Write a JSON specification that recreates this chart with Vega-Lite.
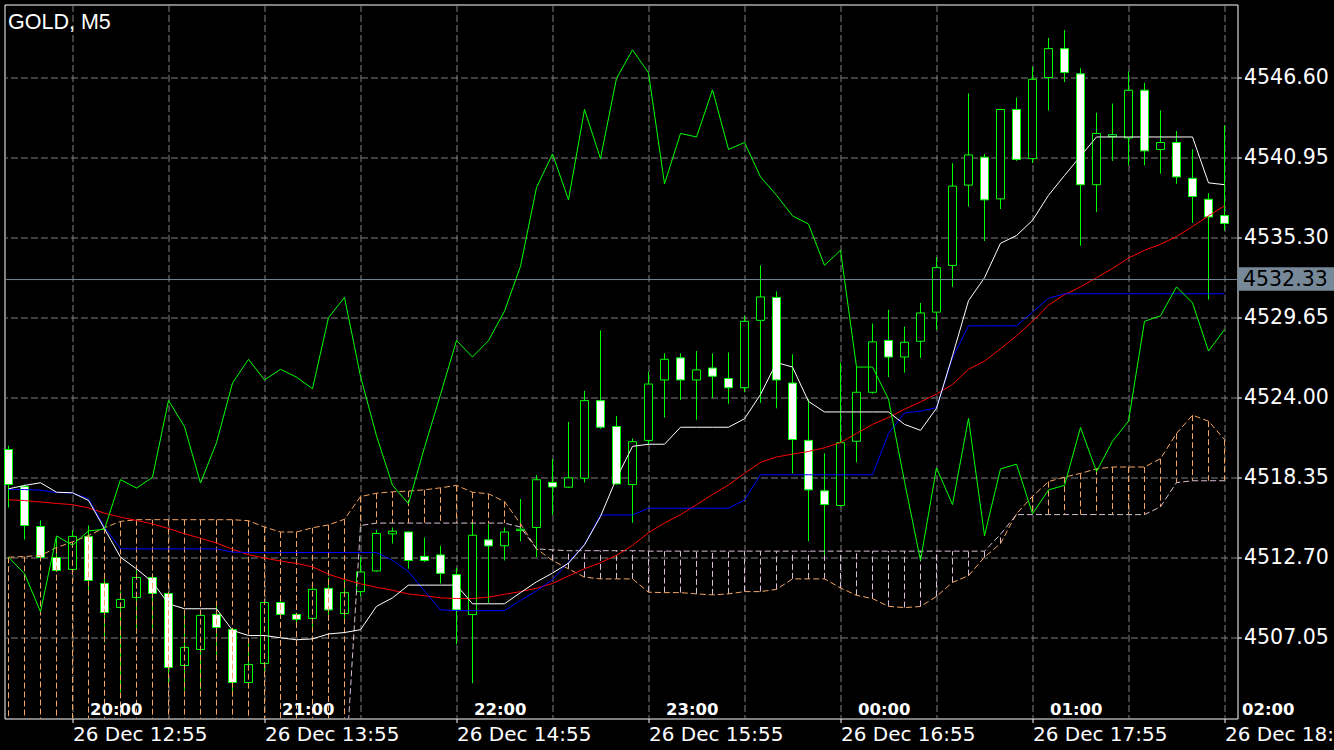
{
"$schema": "https://vega.github.io/schema/vega-lite/v6.json",
"width": 1233, "height": 714,
"autosize": "none",
"padding": {"left": 4.5, "top": 4.5, "right": 96.5, "bottom": 31.5},
"background": "#000000",
"config": {"view": {"stroke": "#ffffff", "strokeWidth": 1, "fill": "#000000"}},
"datasets": {
"bars": [
{"t":"2025-12-26T12:35:00Z","o":4520.33,"h":4520.6,"l":4516.23,"c":4517.86,"ma":4516.78,"tk":4517.55,"kj":4517.5,"ck":4512.72,"sa":4512.72,"sb":4490},
{"t":"2025-12-26T12:40:00Z","o":4517.72,"h":4517.85,"l":4513.97,"c":4514.96,"ma":4516.72,"tk":4517.79,"kj":4517.5,"ck":4511.56,"sa":4512.77,"sb":4490},
{"t":"2025-12-26T12:45:00Z","o":4514.89,"h":4515.32,"l":4512.6,"c":4512.7,"ma":4516.62,"tk":4517.98,"kj":4517.45,"ck":4508.87,"sa":4512.84,"sb":4490},
{"t":"2025-12-26T12:50:00Z","o":4512.7,"h":4514.12,"l":4511.7,"c":4511.78,"ma":4516.52,"tk":4517.31,"kj":4517.29,"ck":4514.22,"sa":4513.4,"sb":4490},
{"t":"2025-12-26T12:55:00Z","o":4511.86,"h":4514.61,"l":4511.8,"c":4514.19,"ma":4516.43,"tk":4517.27,"kj":4517.25,"ck":4513.57,"sa":4513.8,"sb":4490},
{"t":"2025-12-26T13:00:00Z","o":4514.19,"h":4514.96,"l":4510.16,"c":4511.08,"ma":4516.2,"tk":4516.73,"kj":4516.85,"ck":4514.58,"sa":4514.25,"sb":4490},
{"t":"2025-12-26T13:05:00Z","o":4510.87,"h":4511.6,"l":4506.7,"c":4508.82,"ma":4515.83,"tk":4514.73,"kj":4514.85,"ck":4514.7,"sa":4514.8,"sb":4490},
{"t":"2025-12-26T13:10:00Z","o":4509.17,"h":4510.3,"l":4503.2,"c":4509.74,"ma":4515.55,"tk":4512.72,"kj":4513.31,"ck":4518.2,"sa":4515.25,"sb":4490},
{"t":"2025-12-26T13:15:00Z","o":4509.88,"h":4511.85,"l":4507.33,"c":4511.29,"ma":4515.32,"tk":4511.9,"kj":4513.31,"ck":4517.6,"sa":4515.37,"sb":4490},
{"t":"2025-12-26T13:20:00Z","o":4511.29,"h":4511.57,"l":4507.4,"c":4510.16,"ma":4515.07,"tk":4510.96,"kj":4513.31,"ck":4518.37,"sa":4515.37,"sb":4490},
{"t":"2025-12-26T13:25:00Z","o":4510.16,"h":4510.2,"l":4503.6,"c":4504.93,"ma":4514.75,"tk":4509.43,"kj":4513.31,"ck":4523.79,"sa":4515.37,"sb":4490},
{"t":"2025-12-26T13:30:00Z","o":4505.07,"h":4508.96,"l":4503.3,"c":4506.35,"ma":4514.38,"tk":4509.08,"kj":4513.31,"ck":4521.94,"sa":4515.37,"sb":4490},
{"t":"2025-12-26T13:35:00Z","o":4506.2,"h":4509.0,"l":4503.4,"c":4508.61,"ma":4514.06,"tk":4509.08,"kj":4513.31,"ck":4517.96,"sa":4515.37,"sb":4490},
{"t":"2025-12-26T13:40:00Z","o":4508.68,"h":4509.3,"l":4505.5,"c":4507.76,"ma":4513.72,"tk":4509.08,"kj":4513.31,"ck":4520.81,"sa":4515.37,"sb":4490},
{"t":"2025-12-26T13:45:00Z","o":4507.62,"h":4507.7,"l":4503.17,"c":4503.87,"ma":4513.28,"tk":4507.55,"kj":4513.08,"ck":4525.02,"sa":4515.37,"sb":4490},
{"t":"2025-12-26T13:50:00Z","o":4503.87,"h":4506.7,"l":4503.8,"c":4505.14,"ma":4512.9,"tk":4507.19,"kj":4513.05,"ck":4526.7,"sa":4515.3,"sb":4490},
{"t":"2025-12-26T13:55:00Z","o":4505.21,"h":4509.6,"l":4504.7,"c":4509.52,"ma":4512.66,"tk":4507.19,"kj":4513.05,"ck":4525.24,"sa":4514.85,"sb":4490},
{"t":"2025-12-26T14:00:00Z","o":4509.52,"h":4510.0,"l":4508.4,"c":4508.68,"ma":4512.45,"tk":4507.03,"kj":4513.05,"ck":4525.99,"sa":4514.5,"sb":4490},
{"t":"2025-12-26T14:05:00Z","o":4508.68,"h":4508.8,"l":4508.1,"c":4508.33,"ma":4512.28,"tk":4506.89,"kj":4513.05,"ck":4525.44,"sa":4514.5,"sb":4490},
{"t":"2025-12-26T14:10:00Z","o":4508.4,"h":4510.6,"l":4507.6,"c":4510.45,"ma":4512.04,"tk":4506.95,"kj":4513.05,"ck":4524.62,"sa":4514.8,"sb":4490},
{"t":"2025-12-26T14:15:00Z","o":4510.52,"h":4511.3,"l":4508.3,"c":4509.0,"ma":4511.52,"tk":4507.3,"kj":4513.05,"ck":4529.64,"sa":4515.0,"sb":4492},
{"t":"2025-12-26T14:20:00Z","o":4508.74,"h":4511.1,"l":4508.0,"c":4510.22,"ma":4511.15,"tk":4507.4,"kj":4513.05,"ck":4531.07,"sa":4515.4,"sb":4496.5},
{"t":"2025-12-26T14:25:00Z","o":4510.29,"h":4512.72,"l":4509.97,"c":4511.68,"ma":4510.84,"tk":4507.6,"kj":4513.05,"ck":4525.5,"sa":4517.0,"sb":4514.96},
{"t":"2025-12-26T14:30:00Z","o":4511.75,"h":4514.66,"l":4511.7,"c":4514.4,"ma":4510.6,"tk":4509.25,"kj":4513.05,"ck":4521.29,"sa":4517.24,"sb":4515.13},
{"t":"2025-12-26T14:35:00Z","o":4514.37,"h":4514.82,"l":4513.69,"c":4514.56,"ma":4510.39,"tk":4509.85,"kj":4512.5,"ck":4517.8,"sa":4517.34,"sb":4515.13},
{"t":"2025-12-26T14:40:00Z","o":4514.5,"h":4514.55,"l":4511.91,"c":4512.49,"ma":4510.12,"tk":4510.75,"kj":4511.7,"ck":4516.5,"sa":4517.39,"sb":4515.13},
{"t":"2025-12-26T14:45:00Z","o":4512.78,"h":4514.11,"l":4512.39,"c":4512.49,"ma":4510.0,"tk":4510.75,"kj":4510.33,"ck":4520.48,"sa":4517.48,"sb":4515.13},
{"t":"2025-12-26T14:50:00Z","o":4512.88,"h":4513.53,"l":4510.87,"c":4511.58,"ma":4509.85,"tk":4510.75,"kj":4509.0,"ck":4524.21,"sa":4517.62,"sb":4515.13},
{"t":"2025-12-26T14:55:00Z","o":4511.49,"h":4511.97,"l":4506.57,"c":4509.0,"ma":4509.8,"tk":4510.75,"kj":4508.95,"ck":4528.02,"sa":4517.79,"sb":4515.13},
{"t":"2025-12-26T15:00:00Z","o":4508.67,"h":4515.14,"l":4503.82,"c":4514.27,"ma":4509.8,"tk":4509.43,"kj":4508.95,"ck":4526.86,"sa":4517.31,"sb":4515.13},
{"t":"2025-12-26T15:05:00Z","o":4513.95,"h":4515.08,"l":4509.48,"c":4513.52,"ma":4509.9,"tk":4509.43,"kj":4508.95,"ck":4528.02,"sa":4517.2,"sb":4515.13},
{"t":"2025-12-26T15:10:00Z","o":4513.53,"h":4514.82,"l":4512.49,"c":4514.5,"ma":4510.1,"tk":4509.43,"kj":4508.95,"ck":4530.1,"sa":4516.65,"sb":4515.13},
{"t":"2025-12-26T15:15:00Z","o":4514.6,"h":4516.83,"l":4513.85,"c":4514.7,"ma":4510.29,"tk":4510.22,"kj":4509.67,"ck":4533.27,"sa":4515.08,"sb":4514.85},
{"t":"2025-12-26T15:20:00Z","o":4514.82,"h":4518.51,"l":4512.72,"c":4518.19,"ma":4510.53,"tk":4510.98,"kj":4510.34,"ck":4538.83,"sa":4513.31,"sb":4513.31},
{"t":"2025-12-26T15:25:00Z","o":4518.0,"h":4519.65,"l":4515.7,"c":4517.68,"ma":4510.87,"tk":4511.6,"kj":4511.14,"ck":4541.2,"sa":4512.49,"sb":4513.24},
{"t":"2025-12-26T15:30:00Z","o":4517.67,"h":4522.27,"l":4517.6,"c":4518.32,"ma":4511.39,"tk":4512.3,"kj":4512.37,"ck":4537.96,"sa":4511.9,"sb":4513.18},
{"t":"2025-12-26T15:35:00Z","o":4518.3,"h":4524.47,"l":4518.0,"c":4523.78,"ma":4511.91,"tk":4513.6,"kj":4513.62,"ck":4544.34,"sa":4511.31,"sb":4513.18},
{"t":"2025-12-26T15:40:00Z","o":4523.78,"h":4528.74,"l":4521.78,"c":4521.9,"ma":4512.33,"tk":4515.6,"kj":4515.7,"ck":4540.87,"sa":4511.19,"sb":4513.18},
{"t":"2025-12-26T15:45:00Z","o":4521.95,"h":4522.7,"l":4517.86,"c":4517.9,"ma":4512.86,"tk":4518.3,"kj":4515.7,"ck":4546.54,"sa":4511.19,"sb":4513.18},
{"t":"2025-12-26T15:50:00Z","o":4517.85,"h":4521.1,"l":4515.15,"c":4520.88,"ma":4513.55,"tk":4520.55,"kj":4515.7,"ck":4548.55,"sa":4511.19,"sb":4513.18},
{"t":"2025-12-26T15:55:00Z","o":4520.97,"h":4525.82,"l":4520.65,"c":4524.95,"ma":4514.45,"tk":4520.7,"kj":4516.18,"ck":4546.93,"sa":4510.25,"sb":4513.15},
{"t":"2025-12-26T16:00:00Z","o":4525.24,"h":4527.12,"l":4522.59,"c":4526.7,"ma":4515.14,"tk":4520.7,"kj":4516.18,"ck":4539.09,"sa":4510.22,"sb":4513.15},
{"t":"2025-12-26T16:05:00Z","o":4526.8,"h":4527.12,"l":4523.82,"c":4525.24,"ma":4515.72,"tk":4521.9,"kj":4516.18,"ck":4542.65,"sa":4510.22,"sb":4513.15},
{"t":"2025-12-26T16:10:00Z","o":4525.24,"h":4527.28,"l":4522.43,"c":4525.95,"ma":4516.43,"tk":4521.9,"kj":4516.18,"ck":4542.4,"sa":4510.13,"sb":4513.15},
{"t":"2025-12-26T16:15:00Z","o":4526.08,"h":4527.12,"l":4523.95,"c":4525.5,"ma":4517.15,"tk":4521.9,"kj":4516.18,"ck":4545.73,"sa":4510.06,"sb":4513.15},
{"t":"2025-12-26T16:20:00Z","o":4525.34,"h":4527.18,"l":4523.56,"c":4524.69,"ma":4517.83,"tk":4521.9,"kj":4516.18,"ck":4541.52,"sa":4510.13,"sb":4513.15},
{"t":"2025-12-26T16:25:00Z","o":4524.69,"h":4529.77,"l":4524.37,"c":4529.38,"ma":4518.64,"tk":4522.5,"kj":4516.76,"ck":4542.01,"sa":4510.29,"sb":4513.15},
{"t":"2025-12-26T16:30:00Z","o":4529.45,"h":4533.33,"l":4523.62,"c":4531.1,"ma":4519.42,"tk":4524.21,"kj":4518.54,"ck":4539.58,"sa":4510.29,"sb":4513.15},
{"t":"2025-12-26T16:35:00Z","o":4531.07,"h":4531.49,"l":4523.24,"c":4525.24,"ma":4519.8,"tk":4526.47,"kj":4518.54,"ck":4538.29,"sa":4510.45,"sb":4513.15},
{"t":"2025-12-26T16:40:00Z","o":4525.02,"h":4527.05,"l":4518.64,"c":4521.03,"ma":4520.0,"tk":4526.15,"kj":4518.54,"ck":4536.83,"sa":4511.19,"sb":4513.15},
{"t":"2025-12-26T16:45:00Z","o":4520.97,"h":4523.88,"l":4513.85,"c":4517.48,"ma":4520.19,"tk":4523.72,"kj":4518.54,"ck":4536.25,"sa":4511.19,"sb":4513.15},
{"t":"2025-12-26T16:50:00Z","o":4517.41,"h":4520.06,"l":4512.72,"c":4516.44,"ma":4520.45,"tk":4522.98,"kj":4518.54,"ck":4533.33,"sa":4511.19,"sb":4513.15},
{"t":"2025-12-26T16:55:00Z","o":4516.37,"h":4526.47,"l":4516.3,"c":4520.81,"ma":4520.81,"tk":4522.98,"kj":4518.54,"ck":4534.4,"sa":4510.55,"sb":4513.15},
{"t":"2025-12-26T17:00:00Z","o":4520.91,"h":4526.15,"l":4519.42,"c":4524.37,"ma":4521.46,"tk":4522.98,"kj":4518.54,"ck":4526.15,"sa":4510.03,"sb":4513.15},
{"t":"2025-12-26T17:05:00Z","o":4524.37,"h":4529.22,"l":4524.27,"c":4527.93,"ma":4522.1,"tk":4522.98,"kj":4518.54,"ck":4526.15,"sa":4509.8,"sb":4513.15},
{"t":"2025-12-26T17:10:00Z","o":4528.03,"h":4530.19,"l":4525.44,"c":4526.86,"ma":4522.59,"tk":4522.98,"kj":4521.46,"ck":4523.88,"sa":4509.25,"sb":4513.15},
{"t":"2025-12-26T17:15:00Z","o":4526.86,"h":4529.0,"l":4525.76,"c":4527.9,"ma":4523.17,"tk":4522.1,"kj":4522.91,"ck":4518.06,"sa":4509.16,"sb":4513.15},
{"t":"2025-12-26T17:20:00Z","o":4527.97,"h":4530.68,"l":4526.8,"c":4529.97,"ma":4523.69,"tk":4521.68,"kj":4523.04,"ck":4512.49,"sa":4509.24,"sb":4513.15},
{"t":"2025-12-26T17:25:00Z","o":4530.03,"h":4533.92,"l":4528.8,"c":4533.17,"ma":4524.24,"tk":4523.24,"kj":4523.28,"ck":4519.03,"sa":4509.95,"sb":4513.15},
{"t":"2025-12-26T17:30:00Z","o":4533.33,"h":4540.55,"l":4531.81,"c":4538.93,"ma":4524.92,"tk":4526.96,"kj":4526.8,"ck":4516.44,"sa":4510.94,"sb":4513.15},
{"t":"2025-12-26T17:35:00Z","o":4539.0,"h":4545.47,"l":4537.48,"c":4541.13,"ma":4525.99,"tk":4530.84,"kj":4529.06,"ck":4522.52,"sa":4511.42,"sb":4513.15},
{"t":"2025-12-26T17:40:00Z","o":4540.97,"h":4541.2,"l":4535.05,"c":4537.96,"ma":4526.57,"tk":4532.46,"kj":4529.06,"ck":4514.24,"sa":4512.72,"sb":4513.15},
{"t":"2025-12-26T17:45:00Z","o":4538.03,"h":4544.4,"l":4537.31,"c":4544.34,"ma":4527.44,"tk":4534.89,"kj":4529.06,"ck":4518.96,"sa":4513.69,"sb":4514.34},
{"t":"2025-12-26T17:50:00Z","o":4544.34,"h":4545.18,"l":4540.71,"c":4540.81,"ma":4528.35,"tk":4535.44,"kj":4529.06,"ck":4519.29,"sa":4515.79,"sb":4515.73},
{"t":"2025-12-26T17:55:00Z","o":4540.87,"h":4547.35,"l":4540.55,"c":4546.47,"ma":4529.38,"tk":4536.51,"kj":4530.03,"ck":4515.79,"sa":4517.02,"sb":4515.73},
{"t":"2025-12-26T18:00:00Z","o":4546.6,"h":4549.39,"l":4544.27,"c":4548.64,"ma":4530.52,"tk":4538.28,"kj":4531.0,"ck":4517.47,"sa":4518.06,"sb":4515.73},
{"t":"2025-12-26T18:05:00Z","o":4548.64,"h":4549.94,"l":4546.28,"c":4546.96,"ma":4531.26,"tk":4539.68,"kj":4531.33,"ck":4517.8,"sa":4518.38,"sb":4515.73},
{"t":"2025-12-26T18:10:00Z","o":4546.86,"h":4547.25,"l":4534.72,"c":4539.03,"ma":4531.81,"tk":4541.04,"kj":4531.33,"ck":4521.88,"sa":4518.64,"sb":4515.73},
{"t":"2025-12-26T18:15:00Z","o":4539.03,"h":4544.11,"l":4537.09,"c":4542.65,"ma":4532.46,"tk":4542.4,"kj":4531.33,"ck":4518.77,"sa":4518.96,"sb":4515.73},
{"t":"2025-12-26T18:20:00Z","o":4542.43,"h":4544.76,"l":4540.71,"c":4542.56,"ma":4533.11,"tk":4542.4,"kj":4531.33,"ck":4520.91,"sa":4519.09,"sb":4515.73},
{"t":"2025-12-26T18:25:00Z","o":4542.33,"h":4547.02,"l":4540.39,"c":4545.7,"ma":4533.85,"tk":4542.4,"kj":4531.33,"ck":4522.33,"sa":4519.09,"sb":4515.73},
{"t":"2025-12-26T18:30:00Z","o":4545.7,"h":4546.22,"l":4540.39,"c":4541.42,"ma":4534.4,"tk":4542.4,"kj":4531.33,"ck":4529.38,"sa":4519.09,"sb":4515.73},
{"t":"2025-12-26T18:35:00Z","o":4541.52,"h":4544.27,"l":4539.81,"c":4542.01,"ma":4534.82,"tk":4542.4,"kj":4531.33,"ck":4529.77,"sa":4519.68,"sb":4516.28},
{"t":"2025-12-26T18:40:00Z","o":4542.01,"h":4542.82,"l":4539.09,"c":4539.58,"ma":4535.37,"tk":4542.4,"kj":4531.33,"ck":4531.81,"sa":4521.46,"sb":4517.99},
{"t":"2025-12-26T18:45:00Z","o":4539.48,"h":4541.52,"l":4536.34,"c":4538.19,"ma":4536.08,"tk":4542.4,"kj":4531.33,"ck":4530.68,"sa":4522.75,"sb":4518.12},
{"t":"2025-12-26T18:50:00Z","o":4538.0,"h":4538.43,"l":4530.92,"c":4536.75,"ma":4536.83,"tk":4539.16,"kj":4531.33,"ck":4527.28,"sa":4522.33,"sb":4518.12},
{"t":"2025-12-26T18:55:00Z","o":4536.85,"h":4543.21,"l":4535.8,"c":4536.29,"ma":4537.54,"tk":4539.03,"kj":4531.33,"ck":4528.8,"sa":4521.03,"sb":4518.12}
],
"hours": [
{"t":"2025-12-26T13:00:00Z","label":"20:00"},
{"t":"2025-12-26T14:00:00Z","label":"21:00"},
{"t":"2025-12-26T15:00:00Z","label":"22:00"},
{"t":"2025-12-26T16:00:00Z","label":"23:00"},
{"t":"2025-12-26T17:00:00Z","label":"00:00"},
{"t":"2025-12-26T18:00:00Z","label":"01:00"},
{"t":"2025-12-26T19:00:00Z","label":"02:00"}
]
},
"layer": [
{"data": {"name": "bars"},
 "mark": {"type": "rule", "color": "#00ff00", "strokeWidth": 1},
 "encoding": {
  "x": {"field": "t", "type": "temporal", "title": null,
   "scale": {"type": "utc", "nice": false, "padding": 0, "domain": [{"year":2025,"month":12,"date":26,"hours":12,"minutes":33,"seconds":45,"utc":true},{"year":2025,"month":12,"date":26,"hours":18,"minutes":59,"seconds":3,"milliseconds":750,"utc":true}]},
   "axis": {"orient": "bottom", "title": null, "domain": false,
    "values": [{"year":2025,"month":12,"date":26,"hours":12,"minutes":55,"utc":true},{"year":2025,"month":12,"date":26,"hours":13,"minutes":25,"utc":true},{"year":2025,"month":12,"date":26,"hours":13,"minutes":55,"utc":true},{"year":2025,"month":12,"date":26,"hours":14,"minutes":25,"utc":true},{"year":2025,"month":12,"date":26,"hours":14,"minutes":55,"utc":true},{"year":2025,"month":12,"date":26,"hours":15,"minutes":25,"utc":true},{"year":2025,"month":12,"date":26,"hours":15,"minutes":55,"utc":true},{"year":2025,"month":12,"date":26,"hours":16,"minutes":25,"utc":true},{"year":2025,"month":12,"date":26,"hours":16,"minutes":55,"utc":true},{"year":2025,"month":12,"date":26,"hours":17,"minutes":25,"utc":true},{"year":2025,"month":12,"date":26,"hours":17,"minutes":55,"utc":true},{"year":2025,"month":12,"date":26,"hours":18,"minutes":25,"utc":true},{"year":2025,"month":12,"date":26,"hours":18,"minutes":55,"utc":true}],
    "labelExpr": "utcminutes(datum.value) == 55 ? '26 Dec ' + utcFormat(datum.value, '%H:%M') : ''",
    "grid": true, "gridColor": "#808080", "gridDash": [7, 3], "gridWidth": 1,
    "ticks": true, "tickSize": 4, "tickColor": "#ffffff",
    "tickOpacity": {"condition": {"test": "utcminutes(datum.value) == 55", "value": 1}, "value": 0},
    "labelAlign": "left", "labelBaseline": "top", "labelPadding": 2, "labelFlush": false, "labelOverlap": false,
    "labelColor": "#ffffff", "labelFont": "DejaVu Sans", "labelFontSize": 20}},
  "y": {"field": "l", "type": "quantitative", "title": null,
   "scale": {"domain": [4501.3294, 4551.7556], "nice": false, "zero": false, "padding": 0},
   "axis": {"orient": "right", "title": null, "domain": false,
    "values": [4507.05, 4512.7, 4518.35, 4524.0, 4529.65, 4535.3, 4540.95, 4546.6],
    "format": ".2f", "grid": true, "gridColor": "#808080", "gridDash": [7, 3], "gridWidth": 1,
    "ticks": true, "tickSize": 4, "tickColor": "#ffffff",
    "labelAlign": "left", "labelBaseline": "middle", "labelPadding": 2, "labelFlush": false, "labelOverlap": false,
    "labelColor": "#ffffff", "labelFont": "DejaVu Sans", "labelFontSize": 20.5}},
  "y2": {"field": "h"}}},
{"data": {"name": "bars"},
 "mark": {"type": "bar", "size": 8, "stroke": "#00ff00", "strokeWidth": 1},
 "encoding": {
  "x": {"field": "t", "type": "temporal", "title": null},
  "y": {"field": "o", "type": "quantitative", "title": null},
  "y2": {"field": "c"},
  "fill": {"condition": {"test": "datum.c < datum.o", "value": "#ffffff"}, "value": "#000000"}}},
{"data": {"name": "bars"},
 "mark": {"type": "rule", "strokeDash": [6, 3], "strokeWidth": 1, "clip": true},
 "encoding": {
  "x": {"field": "t", "type": "temporal", "title": null},
  "y": {"field": "sa", "type": "quantitative", "title": null},
  "y2": {"field": "sb"},
  "color": {"condition": {"test": "datum.sa >= datum.sb", "value": "#f4a460"}, "value": "#d8bfd8"}}},
{"data": {"name": "bars"},
 "mark": {"type": "line", "color": "#f4a460", "strokeWidth": 1, "strokeDash": [6, 3], "clip": true},
 "encoding": {
  "x": {"field": "t", "type": "temporal", "title": null},
  "y": {"field": "sa", "type": "quantitative", "title": null}}},
{"data": {"name": "bars"},
 "mark": {"type": "line", "color": "#d8bfd8", "strokeWidth": 1, "strokeDash": [6, 3], "clip": true},
 "encoding": {
  "x": {"field": "t", "type": "temporal", "title": null},
  "y": {"field": "sb", "type": "quantitative", "title": null}}},
{"data": {"name": "bars"},
 "mark": {"type": "line", "color": "#ff0000", "strokeWidth": 1, "clip": true},
 "encoding": {
  "x": {"field": "t", "type": "temporal", "title": null},
  "y": {"field": "ma", "type": "quantitative", "title": null}}},
{"data": {"name": "bars"},
 "mark": {"type": "line", "color": "#0000ff", "strokeWidth": 1, "clip": true},
 "encoding": {
  "x": {"field": "t", "type": "temporal", "title": null},
  "y": {"field": "kj", "type": "quantitative", "title": null}}},
{"data": {"name": "bars"},
 "mark": {"type": "line", "color": "#ffffff", "strokeWidth": 1, "clip": true},
 "encoding": {
  "x": {"field": "t", "type": "temporal", "title": null},
  "y": {"field": "tk", "type": "quantitative", "title": null}}},
{"data": {"name": "bars"},
 "mark": {"type": "line", "color": "#00ff00", "strokeWidth": 1, "clip": true},
 "encoding": {
  "x": {"field": "t", "type": "temporal", "title": null},
  "y": {"field": "ck", "type": "quantitative", "title": null}}},
{"data": {"values": [{}]},
 "mark": {"type": "rule", "color": "#778899", "strokeWidth": 1},
 "encoding": {
  "y": {"datum": 4532.33, "type": "quantitative", "title": null}}},
{"data": {"values": [{}]},
 "mark": {"type": "rect", "color": "#778899", "clip": false},
 "encoding": {
  "x": {"datum": {"year":2025,"month":12,"date":26,"hours":18,"minutes":59,"seconds":13,"utc":true}, "type": "temporal", "title": null},
  "x2": {"datum": {"year":2025,"month":12,"date":26,"hours":19,"minutes":29,"seconds":13,"utc":true}},
  "y": {"datum": 4531.54, "type": "quantitative", "title": null},
  "y2": {"datum": 4533.2}}},
{"data": {"values": [{}]},
 "mark": {"type": "text", "text": "4532.33", "color": "#000000", "font": "DejaVu Sans", "fontSize": 20.5, "align": "left", "baseline": "middle", "dx": 5},
 "encoding": {
  "x": {"datum": {"year":2025,"month":12,"date":26,"hours":18,"minutes":59,"seconds":13,"utc":true}, "type": "temporal", "title": null},
  "y": {"datum": 4532.33, "type": "quantitative", "title": null}}},
{"data": {"values": [{}]},
 "mark": {"type": "text", "text": "GOLD, M5", "color": "#ffffff", "font": "Liberation Sans", "fontSize": 21.5, "align": "left", "baseline": "top", "dx": -0.5, "dy": 7.5},
 "encoding": {
  "x": {"datum": {"year":2025,"month":12,"date":26,"hours":12,"minutes":35,"utc":true}, "type": "temporal", "title": null},
  "y": {"datum": 4551.7556, "type": "quantitative", "title": null}}},
{"data": {"name": "hours"},
 "mark": {"type": "text", "color": "#ffffff", "font": "DejaVu Sans", "fontWeight": "bold", "fontSize": 16.5, "align": "left", "baseline": "alphabetic", "dx": 1.5, "dy": -3.5},
 "encoding": {
  "x": {"field": "t", "type": "temporal", "title": null},
  "y": {"datum": 4501.3294, "type": "quantitative", "title": null},
  "text": {"field": "label"}}}
]
}
